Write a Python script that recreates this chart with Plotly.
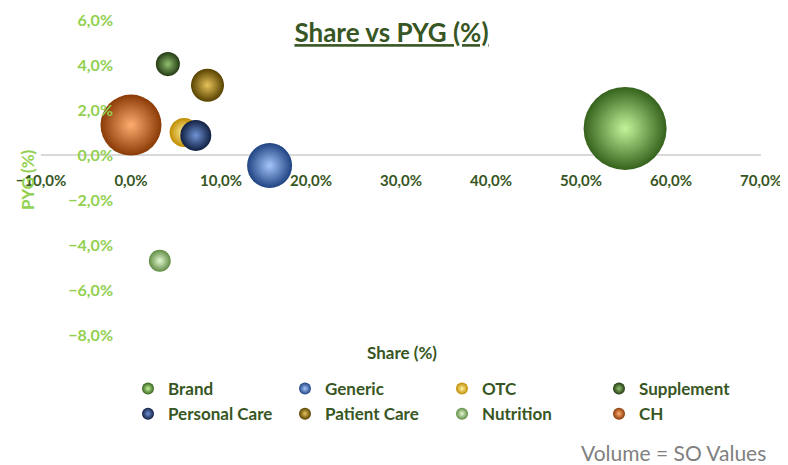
import plotly.graph_objects as go

# ---- data ----
categories = ["Brand", "Generic", "OTC", "Supplement", "Personal Care", "Patient Care", "Nutrition", "CH"]
share = [0.549, 0.154, 0.059, 0.041, 0.072, 0.085, 0.032, 0.000]      # x: Share
pyg = [0.0118, -0.0047, 0.0100, 0.0404, 0.0087, 0.0310, -0.0470, 0.0133]  # y: PYG
volume = [100.0, 29.4, 12.2, 8.4, 13.9, 15.8, 7.0, 54.0]              # bubble size: SO values

x_ticks = [-0.1, 0.0, 0.1, 0.2, 0.3, 0.4, 0.5, 0.6, 0.7]
y_ticks = [-0.08, -0.06, -0.04, -0.02, 0.0, 0.02, 0.04, 0.06]

# ---- styles ----
edge_colors = ["#35621c", "#1f4382", "#c08c00", "#233b14", "#101f40", "#574100", "#5f8c43", "#8a3a06"]
center_colors = ["#c2f59a", "#a4c6fa", "#fff3a0", "#8fbf6d", "#6f93d4", "#e6c25a", "#e4f8d4", "#ffad70"]

DARK_GREEN = "#375623"
LIGHT_GREEN = "#92D050"
FONT = "Lato"

# page geometry: the browser body has an 8px margin, so the figure starts at (8, 8)
OFF = 8
W, H = 788 - OFF, 465 - OFF
ML, MR, MT, MB = 41 - OFF, W - (761 - OFF), 20 - OFF, H - (335 - OFF)
PW, PH = W - ML - MR, H - MT - MB


def cx(px):  # screen px -> container fraction
    return (px - OFF) / W


def cy(py):
    return 1 - (py - OFF) / H


def paper_x(px):
    return (px - OFF - ML) / PW


def paper_y(py):
    return (H - MB - (py - OFF)) / PH


max_diam = 83
sizeref = 2.0 * max(volume) / (max_diam ** 2)

fig = go.Figure()
for i, name in enumerate(categories):
    fig.add_trace(go.Scatter(
        x=[share[i]], y=[pyg[i]], name=name, mode="markers",
        marker=dict(size=[volume[i]], sizemode="area", sizeref=sizeref, opacity=1,
                    color=edge_colors[i], line=dict(width=0),
                    gradient=dict(type="radial", color=center_colors[i])),
        hovertemplate=name + "<br>Share %{x:.1%}<br>PYG %{y:.1%}<extra></extra>",
    ))

fig.update_layout(
    width=W, height=H,
    margin=dict(l=ML, r=MR, t=MT, b=MB, autoexpand=False),
    paper_bgcolor="white", plot_bgcolor="white",
    separators=",.",
    font=dict(family=FONT, size=16, color=DARK_GREEN),
    title=dict(text="<u><b>Share vs PYG (%)</b></u>", x=cx(391.5), xanchor="center",
               xref="container", y=cy(33), yanchor="middle", yref="container",
               font=dict(family=FONT, size=26, color=DARK_GREEN)),
    xaxis=dict(range=[-0.1, 0.7], tickvals=x_ticks, tickformat=".1%",
               showgrid=False, zeroline=False, showline=False, ticks="",
               anchor="free", position=0.08 / 0.14, ticklabelstandoff=15,
               tickfont=dict(family=FONT, size=15, color=DARK_GREEN, weight="bold"),
               automargin=False),
    yaxis=dict(range=[-0.08, 0.06], tickvals=y_ticks, tickformat=".1%",
               showgrid=False, zeroline=True, zerolinecolor="#d9d9d9", zerolinewidth=2,
               showline=False, ticks="", anchor="free", position=0.125,
               ticklabelstandoff=18,
               tickfont=dict(family=FONT, size=16, color=LIGHT_GREEN, weight="bold"),
               automargin=False),
    legend=dict(orientation="h", x=cx(128), xanchor="left", xref="container",
                y=cy(371), yanchor="top", yref="container",
                entrywidth=112, entrywidthmode="pixels",
                itemsizing="constant", traceorder="normal",
                font=dict(family=FONT, size=17, color=DARK_GREEN, weight="bold"),
                bgcolor="rgba(0,0,0,0)"),
    showlegend=True,
    annotations=[
        dict(text="<b>Share (%)</b>", x=paper_x(401.5), y=paper_y(352),
             xref="paper", yref="paper", xanchor="center", yanchor="middle",
             showarrow=False, font=dict(family=FONT, size=17, color=DARK_GREEN)),
        dict(text="<b>PYG (%)</b>", x=paper_x(27.5), y=paper_y(179.5),
             xref="paper", yref="paper", xanchor="center", yanchor="middle",
             textangle=-90, showarrow=False, font=dict(family=FONT, size=17, color=LIGHT_GREEN)),
        dict(text="Volume = SO Values", x=paper_x(768), y=paper_y(452),
             xref="paper", yref="paper", xanchor="right", yanchor="middle",
             showarrow=False, font=dict(family=FONT, size=21, color="#808080")),
    ],
)

fig.write_html("out.html")
